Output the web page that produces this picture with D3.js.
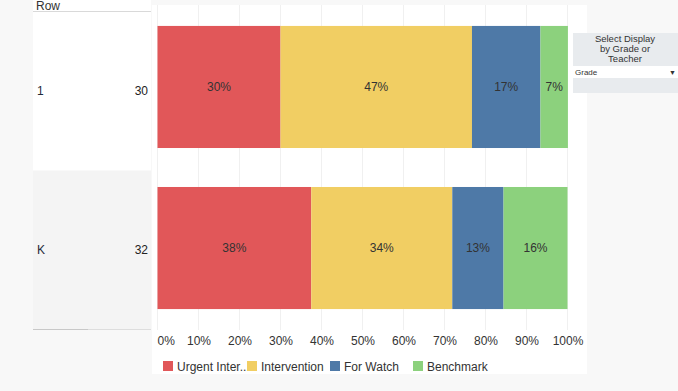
<!DOCTYPE html>
<html><head><meta charset="utf-8">
<script src="https://cdn.jsdelivr.net/npm/d3@7"></script>
<style>
html,body{margin:0;padding:0;background:#f8f8f8;}
svg{display:block;font-family:Arial,"Liberation Sans",sans-serif;}
</style></head>
<body>
<svg id="c" width="678" height="391"></svg>
<script>
const rows = ["1", "K"];
const rowCounts = [30, 32];
const categories = ["Urgent Intervention", "Intervention", "For Watch", "Benchmark"];
const legendLabels = ["Urgent Inter...", "Intervention", "For Watch", "Benchmark"];
const urgent = [30.0, 37.5];
const intervention = [46.7, 34.4];
const forWatch = [16.7, 12.5];
const benchmark = [6.7, 15.6];
const xTicks = [0, 10, 20, 30, 40, 50, 60, 70, 80, 90, 100];
const colors = ["#e15759", "#f1ce63", "#4e79a7", "#8cd17d"];

const svg = d3.select("#c");
const series = [urgent, intervention, forWatch, benchmark];
const data = rows.map((r, i) => {
  const o = {row: r};
  categories.forEach((c, j) => o[c] = series[j][i]);
  return o;
});
const stacked = d3.stack().keys(categories)(data);

// left table panel
const rowBand = d3.scaleBand().domain(rows).range([12, 329]);
svg.append("rect").attr("x", 33).attr("y", 0).attr("width", 118).attr("height", 329).attr("fill", "#fff");
svg.append("text").attr("x", 36).attr("y", 9.5).attr("font-size", 12).attr("fill", "#333").text("Row");
svg.append("line").attr("x1", 33).attr("x2", 151).attr("y1", 11.5).attr("y2", 11.5).attr("stroke", "#d9d9d9");
rows.forEach((r, i) => {
  svg.append("rect").attr("x", 33).attr("y", rowBand(r)).attr("width", 118).attr("height", rowBand.bandwidth())
    .attr("fill", i % 2 ? "#f4f4f4" : "#fff");
  const cy = rowBand(r) + rowBand.bandwidth() / 2 + 4;
  svg.append("text").attr("x", 37).attr("y", cy).attr("font-size", 12).attr("fill", "#1f2a3a").text(r);
  svg.append("text").attr("x", 148).attr("y", cy).attr("font-size", 12).attr("fill", "#222").attr("text-anchor", "end").text(rowCounts[i]);
});
svg.append("line").attr("x1", 33).attr("x2", 151).attr("y1", 329.5).attr("y2", 329.5).attr("stroke", "#ddd");
svg.append("line").attr("x1", 33).attr("x2", 88).attr("y1", 329.5).attr("y2", 329.5).attr("stroke", "#c8c8c8");

// plot panel
svg.append("rect").attr("x", 152).attr("y", 5).attr("width", 435).attr("height", 369).attr("fill", "#fff");
const x = d3.scaleLinear().domain([0, 100]).range([157.5, 567.5]);
const y = d3.scaleBand().domain(rows).range([5, 330]).paddingInner(0.242).paddingOuter(0.13);

svg.append("g").selectAll("line").data(xTicks).join("line")
  .attr("x1", d => x(d)).attr("x2", d => x(d)).attr("y1", 5).attr("y2", 330)
  .attr("stroke", "#f0f0f0");

const g = svg.append("g");
stacked.forEach((s, j) => {
  g.append("g").selectAll("rect").data(s).join("rect")
    .attr("x", d => x(d[0])).attr("y", d => y(d.data.row))
    .attr("width", d => x(d[1]) - x(d[0])).attr("height", y.bandwidth())
    .attr("fill", colors[j]);
  g.append("g").selectAll("text").data(s).join("text")
    .attr("x", d => (x(d[0]) + x(d[1])) / 2).attr("y", d => y(d.data.row) + y.bandwidth() / 2 + 4)
    .attr("text-anchor", "middle").attr("font-size", 12).attr("fill", "#333")
    .text(d => Math.round(d[1] - d[0]) + "%");
});

// x axis
const ax = svg.append("g").attr("transform", "translate(0,330)")
  .call(d3.axisBottom(x).tickValues(xTicks).tickSize(0).tickPadding(6).tickFormat(d => d + "%"));
ax.select(".domain").remove();
ax.selectAll("text").attr("font-size", 12).attr("fill", "#333").attr("font-family", "Arial,'Liberation Sans',sans-serif")
  .attr("text-anchor", d => d === 0 ? "start" : "middle")
  .attr("dx", d => d === 0 ? -0.5 : 0);

// legend
const legX = [163, 247, 330, 413];
const lg = svg.append("g");
categories.forEach((c, j) => {
  lg.append("rect").attr("x", legX[j]).attr("y", 361).attr("width", 10).attr("height", 10).attr("fill", colors[j]);
  lg.append("text").attr("x", legX[j] + 14).attr("y", 370.5).attr("font-size", 12).attr("fill", "#333").text(legendLabels[j]);
});

// right parameter panel
svg.append("rect").attr("x", 573).attr("y", 33).attr("width", 105).attr("height", 60).attr("fill", "#e8ebee");
["Select Display", "by Grade or", "Teacher"].forEach((t, i) => {
  svg.append("text").attr("x", 625).attr("y", 42 + i * 10).attr("text-anchor", "middle").attr("font-size", 9.5).attr("fill", "#333").text(t);
});
svg.append("rect").attr("x", 573).attr("y", 66).attr("width", 105).attr("height", 12).attr("fill", "#fff");
svg.append("text").attr("x", 575).attr("y", 75).attr("font-size", 8).attr("fill", "#333").text("Grade");
svg.append("text").attr("x", 669).attr("y", 75).attr("font-size", 7).attr("fill", "#333").text("▼");
</script>
</body></html>
